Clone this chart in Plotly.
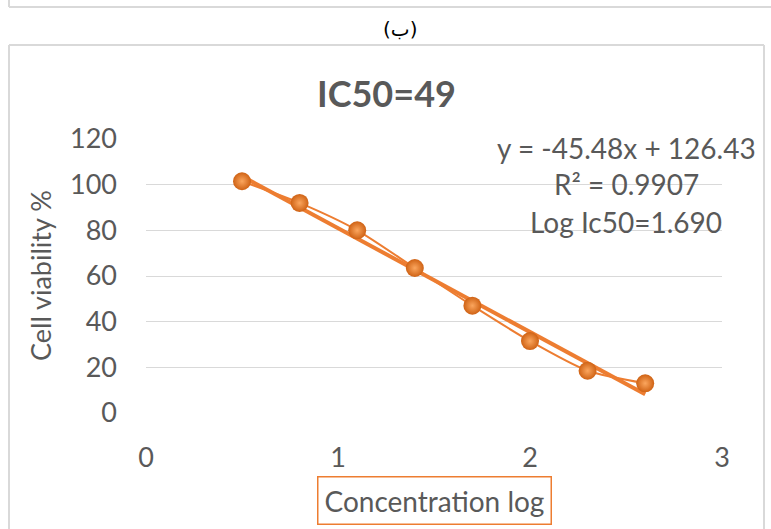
import plotly.graph_objects as go

# ---- data ----
conc_log = [0.5, 0.8, 1.1, 1.4, 1.7, 2.0, 2.3, 2.6]
viability = [101.5, 92, 80, 63.5, 47, 31.5, 18.5, 13]
slope = -45.48
intercept = 126.43
y_ticks = [0, 20, 40, 60, 80, 100, 120]
x_ticks = [0, 1, 2, 3]

W, H = 771, 529
ORANGE = "#ED7D31"
GRAY = "#595959"
FONT = "Lato"

def px(x):
    return x / W

def py(y):
    return (H - y) / H

trend_x = [conc_log[0], conc_log[-1]]
trend_y = [slope * v + intercept for v in trend_x]

fig = go.Figure()
fig.add_trace(go.Scatter(x=trend_x, y=trend_y, mode="lines",
                         line=dict(color=ORANGE, width=4), hoverinfo="skip"))
fig.add_trace(go.Scatter(x=conc_log, y=viability, mode="lines",
                         line=dict(color=ORANGE, width=2, shape="spline", smoothing=0.7),
                         hoverinfo="skip"))
fig.add_trace(go.Scatter(x=conc_log, y=viability, mode="markers",
                         marker=dict(size=18, color="#CF6214",
                                     gradient=dict(type="radial", color="#FBA65E"),
                                     line=dict(width=0))))

fig.update_layout(
    width=W, height=H, autosize=False,
    margin=dict(l=0, r=0, t=0, b=0, pad=0, autoexpand=False),
    paper_bgcolor="white", plot_bgcolor="white",
    showlegend=False,
    font=dict(family=FONT, color=GRAY, size=25),
    xaxis=dict(domain=[px(146), px(722)], range=[0, 3], tickvals=x_ticks,
               showgrid=False, zeroline=False, showline=False, automargin=False,
               ticks="", ticklabelstandoff=26,
               tickfont=dict(size=27, color=GRAY, family=FONT)),
    yaxis=dict(domain=[py(413), py(139)], range=[0, 120], tickvals=y_ticks,
               showgrid=True, gridcolor="#D9D9D9", gridwidth=1.3, automargin=False,
               zeroline=False, showline=False, ticks="", ticklabelstandoff=28,
               tickfont=dict(size=27, color=GRAY, family=FONT)),
)

BORDER = dict(color="#D9D9D9", width=2)
shapes = [
    dict(type="line", xref="paper", yref="paper", x0=px(9), x1=1, y0=py(7), y1=py(7), line=BORDER),
    dict(type="line", xref="paper", yref="paper", x0=px(9), x1=px(9), y0=1, y1=py(7), line=BORDER),
    dict(type="line", xref="paper", yref="paper", x0=px(9), x1=px(764), y0=py(45), y1=py(45), line=BORDER),
    dict(type="line", xref="paper", yref="paper", x0=px(9), x1=px(9), y0=py(45), y1=0, line=BORDER),
    dict(type="line", xref="paper", yref="paper", x0=px(764), x1=px(764), y0=py(45), y1=0, line=BORDER),
]
fig.update_layout(shapes=shapes)

def add(text, x, y, size, **kw):
    d = dict(text=text, x=px(x), y=py(y), xref="paper", yref="paper",
             xanchor="center", yanchor="middle", showarrow=False,
             font=dict(family=kw.pop("family", FONT), size=size, color=kw.pop("color", GRAY)))
    d.update(kw)
    return d

ann = [
    add("(ب)", 400, 29, 20, family="DejaVu Sans", color="#000000"),
    add("<b>IC50=49</b>", 386, 93, 36),
    add("Cell viability %", 40, 276, 27, textangle=-90),
    add("Concentration log", 434, 500, 28, bordercolor=ORANGE, borderwidth=1.5,
        borderpad=6, bgcolor="white"),
]
eq_lines = [f"y = {slope:.2f}x + {intercept:.2f}", "R² = 0.9907", "Log Ic50=1.690"]
eq_y = [148, 184, 222]
for t, yy in zip(eq_lines, eq_y):
    ann.append(add(t, 626, yy, 28))
fig.update_layout(annotations=ann)

fig.write_html("out.html")
